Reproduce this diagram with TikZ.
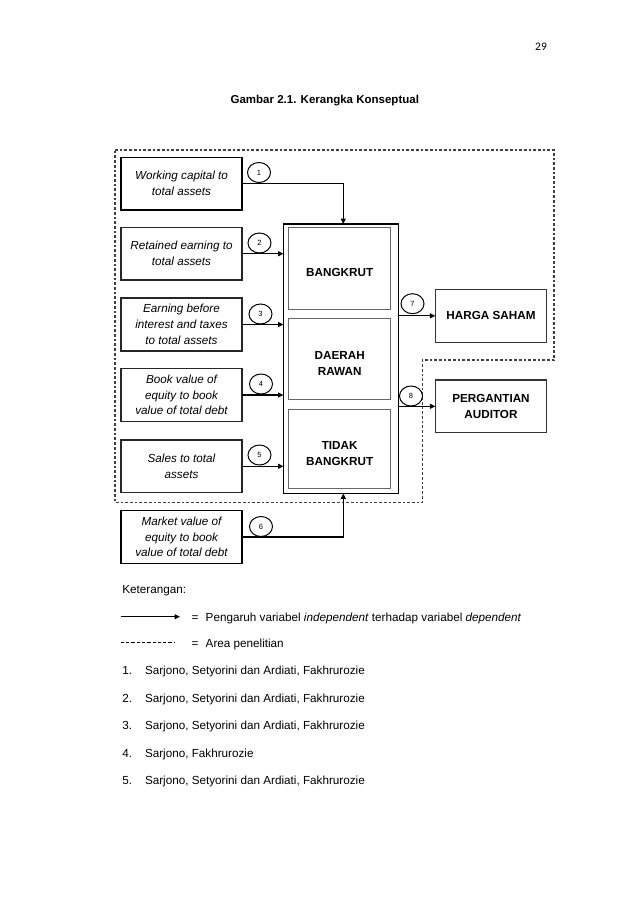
\documentclass[tikz,border=0pt]{standalone}
\usepackage{fontspec}
\setmainfont{Liberation Sans}
\newfontfamily\calib{Carlito}
\usetikzlibrary{arrows.meta,shapes.geometric}
\begin{document}
\begin{tikzpicture}[x=1pt,y=-1pt,
  every node/.style={inner sep=0pt, outer sep=0pt},
  txt/.style={font=\fontsize{11.7}{15.8}\selectfont, anchor=base west},
  varbox/.style={draw=black!85, line width=1.4pt, minimum width=121pt, minimum height=52.7pt,
    align=center, font=\fontsize{11.7}{15.8}\selectfont\itshape},
  resbox/.style={draw=black!80, line width=1.4pt, minimum width=111.4pt, minimum height=53pt,
    align=center, font=\fontsize{11.7}{16.3}\selectfont\bfseries},
  innerbox/.style={draw=black!60, line width=1.4pt, minimum width=101.7pt},
  lbl/.style={align=center, font=\fontsize{11.7}{16.3}\selectfont\bfseries},
  num/.style={draw, ellipse, line width=1pt, minimum width=23pt, minimum height=20pt,
    font=\fontsize{7.5}{8}\selectfont},
  conn/.style={line width=1.1pt, -{Triangle[length=5.5pt,width=5pt]}},
  area/.style={dash pattern=on 2.7pt off 2pt, line width=1.3pt, draw=black!75}
]
\useasboundingbox (0,0) rectangle (638,903);

% page number and title
\node[anchor=base, font=\calib\fontsize{11.5}{13}\selectfont] (page) at (541,50) {29};
\node[anchor=base, font=\fontsize{11.5}{14}\selectfont\bfseries] (title) at (324.8,103.3) {Gambar 2.1. Kerangka Konseptual};

% research area
\draw[area] (115,150) -- (554,150) -- (554,360) -- (422.3,360) -- (422.3,502.3) -- (115,502.3) -- cycle;

% independent variables
\node[varbox, draw=black] (v1) at (181.5,183.7) {Working capital to\\total assets};
\node[varbox] (v2) at (181.5,253.7) {Retained earning to\\total assets};
\node[varbox] (v3) at (181.5,324.5) {Earning before\\interest and taxes\\to total assets};
\node[varbox] (v4) at (181.5,395) {Book value of\\equity to book\\value of total debt};
\node[varbox] (v5) at (181.5,466.2) {Sales to total\\assets};
\node[varbox, draw=black] (v6) at (181.5,537) {Market value of\\equity to book\\value of total debt};

% prediction box
\node[draw=black, line width=1.5pt, minimum width=115.2pt, minimum height=269.3pt] (pred) at (341.1,358.65) {};
\node[innerbox, minimum height=82pt] (i1) at (339.35,268.3) {};
\node[innerbox, minimum height=81pt] (i2) at (339.35,358.8) {};
\node[innerbox, minimum height=79pt] (i3) at (339.35,448.8) {};
\node[lbl] (t1) at (339.7,272) {BANGKRUT};
\node[lbl] (t2) at (339.7,363.3) {DAERAH\\RAWAN};
\node[lbl] (t3) at (339.7,453.7) {TIDAK\\BANGKRUT};

% dependent variables
\node[resbox] (harga) at (491,315.8) {HARGA SAHAM};
\node[resbox, minimum height=52.7pt] (perg) at (491,406.3) {PERGANTIAN\\AUDITOR};

% connectors
\draw[conn] (v1.east) -| ([xshift=2.2pt]pred.north);
\draw[conn] (v2.east) -- (v2.east -| pred.west);
\draw[conn] (v3.east) -- (v3.east -| pred.west);
\draw[conn] (v4.east) -- (v4.east -| pred.west);
\draw[conn] (v5.east) -- (v5.east -| pred.west);
\draw[conn] (v6.east) -| ([xshift=2.2pt]pred.south);
\draw[conn] (harga.west -| pred.east) -- (harga.west);
\draw[conn] (perg.west -| pred.east) -- (perg.west);

% number circles
\node[num] (c1) at (259,172.5) {1};
\node[num] (c2) at (259.5,243) {2};
\node[num] (c3) at (260.5,314) {3};
\node[num] (c4) at (261,384) {4};
\node[num] (c5) at (259.5,455) {5};
\node[num] (c6) at (261,526.5) {6};
\node[num] (c7) at (412.5,303.7) {7};
\node[num] (c8) at (411,396) {8};

% legend
\node[txt] (ket) at (122.3,593.3) {Keterangan:};
\coordinate (la) at (120.7,616.7);
\coordinate (lb) at (180,616.7);
\draw[conn] (la) -- (lb);
\node[txt] (eq1) at (191.7,621) {=};
\node[txt] (d1) at (205.7,621) {Pengaruh variabel \textit{independent} terhadap variabel \textit{dependent}};
\coordinate (ld1) at (120.7,642.7);
\coordinate (ld2) at (174,642.7);
\draw[dash pattern=on 3.3pt off 2pt, line width=0.9pt] (ld1) -- (ld2);
\node[txt] (eq2) at (191.7,647) {=};
\node[txt] (d2) at (205.7,647) {Area penelitian};

% references
\node[txt] (n1) at (122.3,674.2) {1.};
\node[txt] (r1) at (145,674.2) {Sarjono, Setyorini dan Ardiati, Fakhrurozie};
\node[txt] (n2) at (122.3,702) {2.};
\node[txt] (r2) at (145,702) {Sarjono, Setyorini dan Ardiati, Fakhrurozie};
\node[txt] (n3) at (122.3,729.2) {3.};
\node[txt] (r3) at (145,729.2) {Sarjono, Setyorini dan Ardiati, Fakhrurozie};
\node[txt] (n4) at (122.3,757) {4.};
\node[txt] (r4) at (145,757) {Sarjono, Fakhrurozie};
\node[txt] (n5) at (122.3,784.2) {5.};
\node[txt] (r5) at (145,784.2) {Sarjono, Setyorini dan Ardiati, Fakhrurozie};
\end{tikzpicture}
\end{document}
